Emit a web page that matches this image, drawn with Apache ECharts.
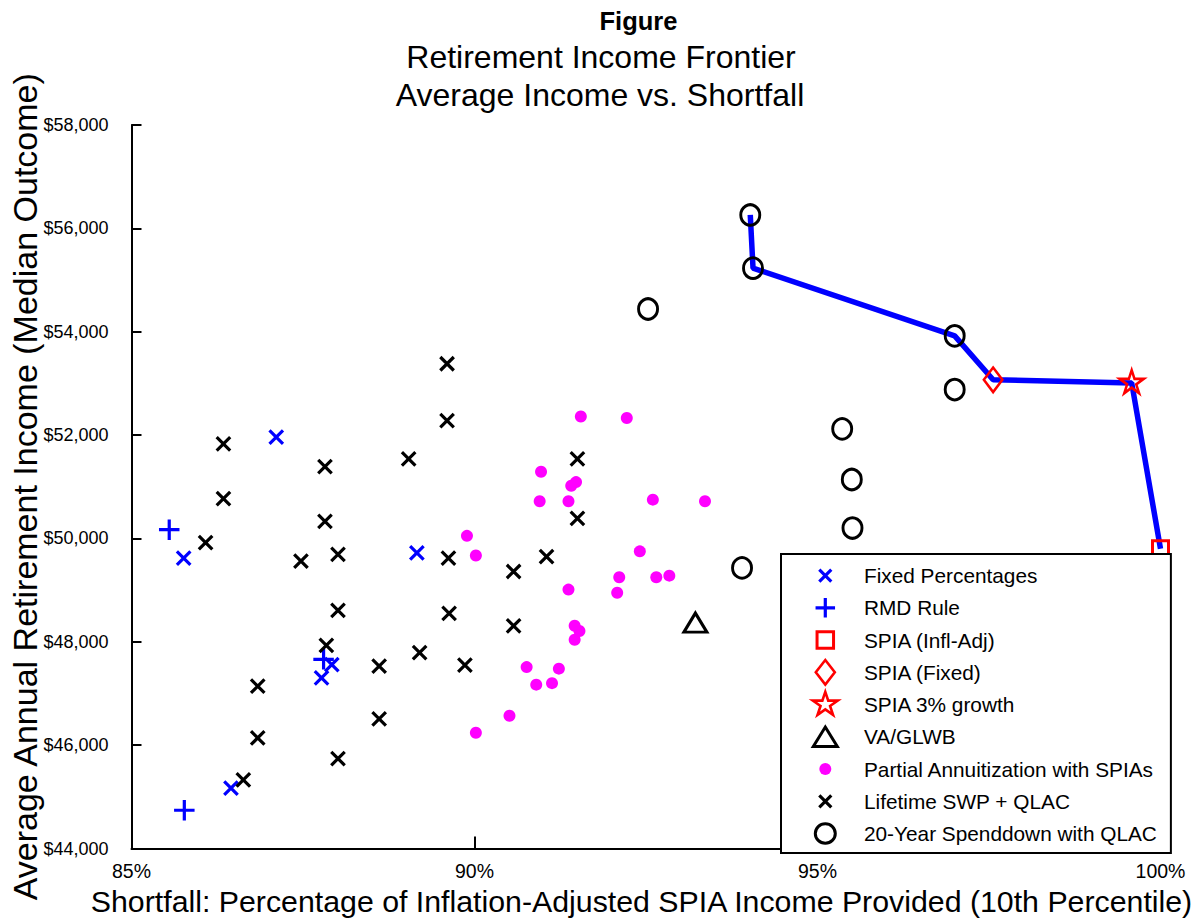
<!DOCTYPE html>
<html>
<head>
<meta charset="utf-8">
<script src="https://cdn.jsdelivr.net/npm/echarts@6/dist/echarts.min.js"></script>
<style>
html,body{margin:0;padding:0;background:#fff;}
#chart{width:1195px;height:922px;}
</style>
</head>
<body>
<div id="chart"></div>
<script>
// ---------------- DATA ----------------
const xTicks = [85, 90, 95, 100];           // percent
const yTicks = [44000, 46000, 48000, 50000, 52000, 54000, 56000, 58000];

const fixedPercentages = [[87.11,51960],[85.76,49620],[89.16,49720],[87.92,47560],[87.77,47300],[86.45,45170]];
const rmdRule = [[85.55,50170],[87.80,47660],[85.77,44740]];
const spiaInflAdj = [[100.0,49800]];
const spiaFixed = [[97.56,53070]];
const spiaGrowth = [[99.58,53010]];
const vaGlwb = [[93.22,48370]];
const partialAnnuitization = [
  [89.89,50050],[90.02,49670],[91.55,52360],[92.22,52330],[90.97,51290],[91.48,51090],
  [91.41,51020],[90.95,50720],[91.37,50720],[92.60,50750],[93.36,50720],[92.41,49750],
  [92.11,49250],[92.65,49250],[92.84,49280],[91.37,49010],[92.08,48950],[91.46,48310],
  [91.53,48210],[91.46,48040],[90.76,47510],[91.23,47480],[90.90,47170],[91.13,47200],
  [90.51,46570],[90.02,46240]
];
const lifetimeSwpQlac = [
  [86.08,49920],[86.34,51830],[86.34,50770],[87.82,51390],[87.82,50330],[87.47,49560],
  [88.01,49690],[89.04,51540],[89.60,53380],[89.60,52280],[89.62,49620],[91.50,51540],
  [91.50,50390],[90.57,49360],[91.05,49650],[89.63,48550],[90.57,48310],[89.20,47790],
  [89.86,47550],[88.01,48610],[87.84,47930],[88.61,47530],[86.84,47140],[88.61,46510],
  [86.84,46140],[88.01,45740],[86.63,45330]
];
const spenddownQlac = [[94.02,56260],[94.06,55230],[97.00,53920],[97.00,52880],[92.53,54440],
  [95.36,52120],[95.50,51140],[95.51,50200],[93.90,49430]];
const frontier = [[94.02,56260],[94.06,55230],[97.00,53920],[97.56,53070],[99.58,53010],[100.0,49800]];

const seriesNames = ['Fixed Percentages','RMD Rule','SPIA (Infl-Adj)','SPIA (Fixed)','SPIA 3% growth',
  'VA/GLWB','Partial Annuitization with SPIAs','Lifetime SWP + QLAC','20-Year Spenddown with QLAC'];

// ---------------- STYLE ----------------
const FONT = '"Liberation Sans", Arial, Helvetica, sans-serif';
const BLUE = '#0000ff', RED = '#ff0000', MAG = '#ff00ff', BLACK = '#000000';
const NOFILL = 'rgba(0,0,0,0)';

const X_PATH = 'path://M0,0L10,10M10,0L0,10';
const PLUS_PATH = 'path://M5,0L5,10M0,5L10,5';
const STAR_PATH = 'path://M50,100M50,0L61.17,34.63L97.55,34.55L68.07,55.87L79.39,90.45L50,69L20.61,90.45L31.93,55.87L2.45,34.55L38.83,34.63Z';

// legend icons padded into a 27x27 frame so each keeps its own size
const C = 13.5;
const pad = b => 'path://M0,0M27,27' + b;
const xIcon = s => { const a=C-s/2,b=C+s/2; return pad(`M${a},${a}L${b},${b}M${b},${a}L${a},${b}`); };
const plusIcon = s => { const a=C-s/2,b=C+s/2; return pad(`M${C},${a}L${C},${b}M${a},${C}L${b},${C}`); };
const rectIcon = s => { const a=C-s/2,b=C+s/2; return pad(`M${a},${a}L${b},${a}L${b},${b}L${a},${b}Z`); };
const diamondIcon = (w,h) => pad(`M${C},${C-h/2}L${C+w/2},${C}L${C},${C+h/2}L${C-w/2},${C}Z`);
const triIcon = (w,h) => pad(`M${C},${C-h/2}L${C+w/2},${C+h/2}L${C-w/2},${C+h/2}Z`);
const ellIcon = (w,h) => { const rx=w/2, ry=h/2; return pad(`M${C-rx},${C}A${rx},${ry},0,1,1,${C+rx},${C}A${rx},${ry},0,1,1,${C-rx},${C}Z`); };
const starIcon = (w,h) => {
  const pts = [[50,0],[61.17,34.63],[97.55,34.55],[68.07,55.87],[79.39,90.45],[50,69],[20.61,90.45],[31.93,55.87],[2.45,34.55],[38.83,34.63]];
  const s = pts.map((p,i)=> (i?'L':'M') + (C + (p[0]-50)/95*w).toFixed(2) + ',' + (C + (p[1]-50)/90.45*h).toFixed(2));
  return pad(s.join('') + 'Z');
};

const legendData = [
  {name: seriesNames[0], icon: xIcon(12), itemStyle:{color:BLUE, borderColor:BLUE, borderWidth:3.2, opacity:1}},
  {name: seriesNames[1], icon: plusIcon(19.5), itemStyle:{color:BLUE, borderColor:BLUE, borderWidth:3.2, opacity:1}},
  {name: seriesNames[2], icon: rectIcon(16.5), itemStyle:{color:NOFILL, borderColor:RED, borderWidth:3, opacity:1}},
  {name: seriesNames[3], icon: diamondIcon(19,24.5), itemStyle:{color:NOFILL, borderColor:RED, borderWidth:2.6, opacity:1}},
  {name: seriesNames[4], icon: starIcon(25,23), itemStyle:{color:NOFILL, borderColor:RED, borderWidth:2.6, opacity:1}},
  {name: seriesNames[5], icon: triIcon(24,19.5), itemStyle:{color:NOFILL, borderColor:BLACK, borderWidth:3, opacity:1}},
  {name: seriesNames[6], icon: ellIcon(12,12), itemStyle:{color:MAG, borderColor:MAG, borderWidth:0, opacity:1}},
  {name: seriesNames[7], icon: xIcon(12), itemStyle:{color:BLACK, borderColor:BLACK, borderWidth:3.2, opacity:1}},
  {name: seriesNames[8], icon: ellIcon(20,19.5), itemStyle:{color:NOFILL, borderColor:BLACK, borderWidth:3, opacity:1}}
];

function scatter(name, data, symbol, size, style) {
  return { type:'scatter', name, data, symbol, symbolSize:size, itemStyle:Object.assign({opacity:1}, style), z:3,
           emphasis:{disabled:true}, silent:true };
}

const chart = echarts.init(document.getElementById('chart'), null, {renderer:'svg'});
chart.setOption({
  animation:false,
  backgroundColor:'#ffffff',
  textStyle:{fontFamily:FONT},
  graphic:[
    {type:'text', x:638.5, y:21, z:10, style:{text:'Figure', font:'bold 25.5px '+FONT, fill:BLACK, align:'center', verticalAlign:'middle', textAlign:'center', textVerticalAlign:'middle'}},
    {type:'text', x:601, y:56.5, z:10, style:{text:'Retirement Income Frontier', font:'32px '+FONT, fill:BLACK, align:'center', verticalAlign:'middle', textAlign:'center', textVerticalAlign:'middle'}},
    {type:'text', x:600, y:94.5, z:10, style:{text:'Average Income vs. Shortfall', font:'32px '+FONT, fill:BLACK, align:'center', verticalAlign:'middle', textAlign:'center', textVerticalAlign:'middle'}}
  ],
  grid:{left:131.5, top:125, width:1029, height:723.5, containLabel:false, outerBoundsMode:'none'},
  xAxis:{
    type:'value', min:xTicks[0], max:xTicks[xTicks.length-1], interval:5,
    name:'Shortfall: Percentage of Inflation-Adjusted SPIA Income Provided (10th Percentile)',
    nameLocation:'middle', nameGap:38, nameMoveOverlap:false,
    nameTextStyle:{fontSize:30.3, color:BLACK, fontFamily:FONT, padding:[0, 9, 0, 0]},
    axisLine:{show:true, onZero:false, lineStyle:{color:BLACK, width:2}},
    axisTick:{show:true, inside:true, length:12, lineStyle:{color:BLACK, width:2}},
    axisLabel:{formatter: v => v + '%', fontSize:19.5, color:BLACK, margin:12, fontFamily:FONT},
    splitLine:{show:false}
  },
  yAxis:{
    type:'value', min:yTicks[0], max:yTicks[yTicks.length-1], interval:2000,
    name:'Average Annual Retirement Income (Median Outcome)',
    nameLocation:'middle', nameGap:90, nameMoveOverlap:false,
    nameTextStyle:{fontSize:34, color:BLACK, fontFamily:FONT},
    axisLine:{show:true, onZero:false, lineStyle:{color:BLACK, width:2}},
    axisTick:{show:true, inside:true, length:10, lineStyle:{color:BLACK, width:2}},
    axisLabel:{formatter: v => '$' + v.toLocaleString('en-US'), fontSize:18, color:BLACK, margin:23, fontFamily:FONT},
    splitLine:{show:false}
  },
  legend:{
    orient:'vertical', left:781, top:554,
    padding:[5.4, 14, 3.4, 29.2],
    itemWidth:67.4, itemHeight:27, itemGap:0,
    backgroundColor:'#ffffff', borderColor:BLACK, borderWidth:2, borderRadius:0,
    selectedMode:false, z:20,
    textStyle:{fontSize:20.8, lineHeight:32.25, color:BLACK, fontFamily:FONT},
    data: legendData
  },
  series:[
    {type:'line', name:'Frontier', data:frontier, symbol:'none', z:2, silent:true,
     lineStyle:{color:BLUE, width:5.5}, emphasis:{disabled:true}},
    scatter(seriesNames[0], fixedPercentages, X_PATH, 13.5, {color:BLUE, borderColor:BLUE, borderWidth:3.2}),
    scatter(seriesNames[1], rmdRule, PLUS_PATH, 20.5, {color:BLUE, borderColor:BLUE, borderWidth:3.2}),
    scatter(seriesNames[2], spiaInflAdj, 'rect', 16, {color:NOFILL, borderColor:RED, borderWidth:3}),
    scatter(seriesNames[3], spiaFixed, 'diamond', [18.5,24.5], {color:NOFILL, borderColor:RED, borderWidth:2.6}),
    scatter(seriesNames[4], spiaGrowth, STAR_PATH, [24,25.5], {color:NOFILL, borderColor:RED, borderWidth:2.6}),
    scatter(seriesNames[5], vaGlwb, 'triangle', [23,19], {color:NOFILL, borderColor:BLACK, borderWidth:3}),
    scatter(seriesNames[6], partialAnnuitization, 'circle', 12, {color:MAG, borderWidth:0}),
    scatter(seriesNames[7], lifetimeSwpQlac, X_PATH, 13.5, {color:BLACK, borderColor:BLACK, borderWidth:3.2}),
    scatter(seriesNames[8], spenddownQlac, 'circle', [19,20.5], {color:NOFILL, borderColor:BLACK, borderWidth:3})
  ]
});
</script>
</body>
</html>
